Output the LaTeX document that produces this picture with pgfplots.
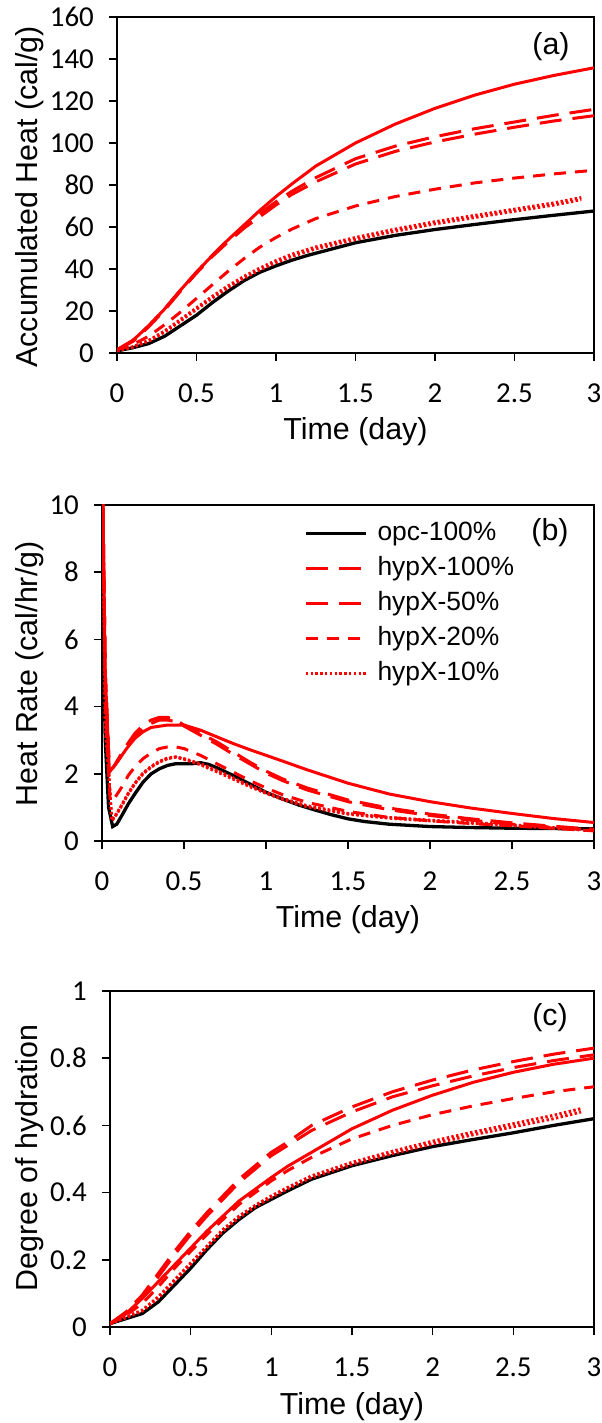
\documentclass[border=0pt]{standalone}
\usepackage{fontspec}
\setmainfont{Liberation Sans}
\newfontfamily\calibri{Carlito}
\usepackage{pgfplots}
\pgfplotsset{compat=1.18}
\definecolor{xred}{RGB}{255,0,0}
\tikzset{
  blk/.style={black, line width=3.3bp, solid},
  rsol/.style={xred, line width=3bp, solid},
  ldash/.style={xred, line width=3bp, dash pattern=on 22bp off 11bp},
  sdash/.style={xred, line width=3bp, dash pattern=on 12bp off 9bp},
  dotl/.style={xred, line width=3bp, dash pattern=on 2.4bp off 2.4bp},
}
\pgfplotsset{
  myaxis/.style={
    scale only axis, height=336bp,
    xmin=0, xmax=3, xtick={0,0.5,1,1.5,2,2.5,3},
    axis line style={line width=1.5bp},
    tick align=outside, tick pos=left,
    major tick length=8bp,
    every tick/.style={black, line width=1.5bp},
    tick label style={font=\calibri\fontsize{29}{29}\selectfont},
    /pgf/number format/assume math mode=true,
    yticklabel style={inner sep=0pt, xshift=-15bp},
    xticklabel style={inner sep=0pt, yshift=-23bp},
    clip=true,
  }
}
\begin{document}
\begin{tikzpicture}
\path[use as bounding box] (0,0) rectangle (602bp,1423bp);
% ---------- (a) ----------
\begin{axis}[myaxis, at={(117bp,1070bp)}, anchor=south west, width=477bp,
  ymin=0, ymax=160, ytick={0,20,...,160}]
\addplot[blk] coordinates {(0,1)(0.1,2.5)(0.2,4.5)(0.3,8)(0.4,13)(0.5,18)(0.6,24)(0.7,29.5)(0.8,34.5)(0.9,38.5)(1.0,41.5)(1.1,44.2)(1.2,46.5)(1.3,48.5)(1.4,50.5)(1.5,52.5)(1.75,56)(2.0,58.8)(2.25,61.2)(2.5,63.5)(2.75,65.6)(3.0,67.6)};
\addplot[dotl] coordinates {(0,1)(0.1,3)(0.2,6)(0.3,10.5)(0.4,16)(0.5,21.5)(0.6,27)(0.7,32)(0.8,36.5)(0.9,40.5)(1.0,44)(1.1,47)(1.25,50.5)(1.5,55)(1.75,59)(2.0,62.5)(2.25,65.5)(2.5,68.5)(2.75,71.5)(2.92,74)};
\addplot[dotl] coordinates {(0,1)(0.1,2.8)(0.2,5.6)(0.3,10)(0.4,15.3)(0.5,20.8)(0.6,26.2)(0.7,31.2)(0.8,35.7)(0.9,39.6)(1.0,43)(1.1,46)(1.25,49.6)(1.5,54)(1.75,58)(2.0,61.5)(2.25,64.5)(2.5,67.5)(2.75,70.5)(2.92,73)};
\addplot[sdash] coordinates {(0,1.5)(0.1,4)(0.2,8)(0.3,13.5)(0.4,19.5)(0.5,26)(0.6,32.5)(0.7,39)(0.8,45)(0.9,50.5)(1.0,55)(1.1,59)(1.25,64)(1.5,70)(1.75,74.5)(2.0,78)(2.25,81)(2.5,83.3)(2.75,85.3)(3.0,87)};
\addplot[ldash] coordinates {(0,1.5)(0.1,5.5)(0.2,12.5)(0.3,20.5)(0.4,29.5)(0.5,38)(0.6,46)(0.7,53)(0.8,59.5)(0.9,65)(1.0,70.5)(1.1,75.5)(1.25,81.5)(1.5,90)(1.75,96)(2.0,100.5)(2.25,104.2)(2.5,107.5)(2.75,110.5)(3.0,113)};
\addplot[ldash] coordinates {(0,1.5)(0.1,6)(0.2,13)(0.3,21)(0.4,30)(0.5,38.5)(0.6,46.5)(0.7,54)(0.8,60.5)(0.9,66.5)(1.0,72)(1.1,77)(1.25,83.5)(1.5,92.5)(1.75,98.5)(2.0,103)(2.25,106.8)(2.5,110)(2.75,113.2)(3.0,116)};
\addplot[rsol] coordinates {(0,1.5)(0.1,6)(0.2,13)(0.3,21)(0.4,30)(0.5,38.5)(0.6,46.5)(0.7,54)(0.8,61)(0.9,68)(1.0,74.5)(1.1,80.5)(1.25,89)(1.5,100)(1.75,109)(2.0,116.5)(2.25,122.8)(2.5,128)(2.75,132.2)(3.0,135.8)};
\end{axis}
\node[rotate=90, anchor=base, font=\fontsize{30.5}{30.5}\selectfont] at (37bp,1226bp) {Accumulated Heat (cal/g)};
\node[anchor=base, font=\fontsize{30.5}{30.5}\selectfont] at (355.5bp,983bp) {Time (day)};
\node[font=\fontsize{30.5}{30.5}\selectfont] at (551bp,1376bp) {(a)};
% ---------- (b) ----------
\begin{axis}[myaxis, at={(102bp,582bp)}, anchor=south west, width=492bp,
  ymin=0, ymax=10, ytick={0,2,...,10},
  legend style={at={(rel axis cs:0.4106,0.952)}, anchor=north west, draw=none, fill=none,
    inner sep=0pt, row sep=10.5bp, column sep=10bp,
    font=\fontsize{26.5}{26.5}\selectfont,
    nodes={inner sep=0pt, text height=19bp, text depth=5.5bp}},
  legend cell align=left,
  legend image code/.code={\draw[#1] (0bp,0bp) -- (60bp,0bp);}]
\addplot[blk] coordinates {(0.003,7.1)(0.02,3.0)(0.04,1.0)(0.065,0.43)(0.09,0.5)(0.12,0.75)(0.16,1.1)(0.2,1.4)(0.25,1.75)(0.3,2.0)(0.35,2.15)(0.4,2.25)(0.45,2.3)(0.5,2.3)(0.55,2.3)(0.6,2.33)(0.65,2.28)(0.7,2.18)(0.8,1.95)(0.9,1.7)(1.0,1.45)(1.1,1.25)(1.2,1.07)(1.3,0.92)(1.4,0.78)(1.5,0.66)(1.6,0.58)(1.75,0.5)(2.0,0.43)(2.25,0.4)(2.5,0.38)(2.75,0.37)(3.0,0.36)};
\addlegendentry{opc-100\%}
\addplot[ldash] coordinates {(0.003,11)(0.02,5)(0.045,2.1)(0.07,2.2)(0.1,2.45)(0.15,2.85)(0.2,3.2)(0.25,3.45)(0.3,3.6)(0.35,3.68)(0.4,3.68)(0.45,3.6)(0.5,3.45)(0.6,3.2)(0.7,2.95)(0.8,2.65)(0.9,2.35)(1.0,2.08)(1.1,1.85)(1.25,1.58)(1.5,1.22)(1.75,0.98)(2.0,0.8)(2.25,0.66)(2.5,0.54)(2.75,0.44)(3.0,0.35)};
\addlegendentry{hypX-100\%}
\addplot[ldash] coordinates {(0.003,11)(0.02,5)(0.045,2.1)(0.07,2.2)(0.1,2.4)(0.15,2.8)(0.2,3.1)(0.25,3.35)(0.3,3.5)(0.35,3.6)(0.4,3.6)(0.45,3.55)(0.5,3.42)(0.6,3.15)(0.7,2.88)(0.8,2.58)(0.9,2.3)(1.0,2.02)(1.1,1.8)(1.25,1.52)(1.5,1.17)(1.75,0.93)(2.0,0.76)(2.25,0.62)(2.5,0.5)(2.75,0.41)(3.0,0.32)};
\addlegendentry{hypX-50\%}
\addplot[sdash] coordinates {(0.003,11)(0.02,4)(0.05,1.2)(0.08,1.3)(0.12,1.6)(0.16,1.95)(0.2,2.2)(0.25,2.45)(0.3,2.62)(0.35,2.75)(0.4,2.8)(0.45,2.8)(0.5,2.75)(0.6,2.55)(0.7,2.3)(0.8,2.05)(0.9,1.8)(1.0,1.58)(1.1,1.38)(1.25,1.15)(1.5,0.88)(1.75,0.7)(2.0,0.6)(2.25,0.52)(2.5,0.45)(2.75,0.38)(3.0,0.3)};
\addlegendentry{hypX-20\%}
\addplot[dotl] coordinates {(0.003,11)(0.02,3.5)(0.06,0.6)(0.09,0.8)(0.12,1.05)(0.16,1.4)(0.2,1.7)(0.25,2.0)(0.3,2.2)(0.35,2.35)(0.4,2.45)(0.45,2.5)(0.5,2.45)(0.6,2.3)(0.7,2.1)(0.8,1.88)(0.9,1.65)(1.0,1.45)(1.1,1.27)(1.25,1.05)(1.5,0.82)(1.75,0.7)(2.0,0.62)(2.25,0.55)(2.5,0.48)(2.75,0.4)(2.92,0.35)};
\addlegendentry{hypX-10\%}
\addplot[dotl, forget plot] coordinates {(0.003,11)(0.02,3.5)(0.06,0.62)(0.09,0.82)(0.12,1.07)(0.16,1.42)(0.2,1.72)(0.25,2.02)(0.3,2.22)(0.35,2.37)(0.4,2.47)(0.45,2.5)(0.5,2.43)(0.6,2.27)(0.7,2.06)(0.8,1.84)(0.9,1.62)(1.0,1.42)(1.1,1.24)(1.25,1.02)(1.5,0.8)(1.75,0.68)(2.0,0.6)(2.25,0.53)(2.5,0.46)(2.75,0.38)(2.92,0.33)};
\addplot[rsol, forget plot] coordinates {(0.003,11)(0.02,5)(0.045,2.05)(0.07,2.2)(0.1,2.4)(0.15,2.75)(0.2,3.05)(0.25,3.25)(0.3,3.38)(0.4,3.45)(0.5,3.45)(0.6,3.3)(0.7,3.1)(0.8,2.9)(0.9,2.72)(1.0,2.55)(1.1,2.38)(1.25,2.12)(1.5,1.72)(1.75,1.4)(2.0,1.17)(2.25,0.98)(2.5,0.82)(2.75,0.67)(3.0,0.55)};
\end{axis}
\node[rotate=90, anchor=base, font=\fontsize{30.5}{30.5}\selectfont] at (37bp,749bp) {Heat Rate (cal/hr/g)};
\node[anchor=base, font=\fontsize{30.5}{30.5}\selectfont] at (348bp,495bp) {Time (day)};
\node[font=\fontsize{30.5}{30.5}\selectfont] at (550bp,890bp) {(b)};
% ---------- (c) ----------
\begin{axis}[myaxis, at={(110bp,96bp)}, anchor=south west, width=484bp,
  ymin=0, ymax=1, ytick={0,0.2,0.4,0.6,0.8,1}]
\addplot[blk] coordinates {(0,0.01)(0.1,0.025)(0.2,0.04)(0.3,0.075)(0.4,0.125)(0.5,0.175)(0.6,0.23)(0.7,0.28)(0.8,0.32)(0.9,0.355)(1.0,0.38)(1.1,0.405)(1.25,0.44)(1.5,0.48)(1.75,0.51)(2.0,0.537)(2.25,0.558)(2.5,0.578)(2.75,0.6)(3.0,0.62)};
\addplot[dotl] coordinates {(0,0.01)(0.1,0.03)(0.2,0.05)(0.3,0.09)(0.4,0.14)(0.5,0.19)(0.6,0.24)(0.7,0.29)(0.8,0.33)(0.9,0.362)(1.0,0.39)(1.1,0.415)(1.25,0.45)(1.5,0.49)(1.75,0.523)(2.0,0.553)(2.25,0.58)(2.5,0.605)(2.75,0.63)(2.92,0.65)};
\addplot[dotl] coordinates {(0,0.01)(0.1,0.028)(0.2,0.048)(0.3,0.087)(0.4,0.137)(0.5,0.187)(0.6,0.237)(0.7,0.286)(0.8,0.326)(0.9,0.358)(1.0,0.386)(1.1,0.411)(1.25,0.445)(1.5,0.484)(1.75,0.516)(2.0,0.545)(2.25,0.572)(2.5,0.596)(2.75,0.62)(2.92,0.64)};
\addplot[sdash] coordinates {(0,0.01)(0.1,0.035)(0.2,0.07)(0.3,0.12)(0.4,0.175)(0.5,0.225)(0.6,0.275)(0.7,0.32)(0.8,0.365)(0.9,0.4)(1.0,0.435)(1.1,0.465)(1.25,0.505)(1.5,0.56)(1.75,0.6)(2.0,0.632)(2.25,0.658)(2.5,0.68)(2.75,0.7)(3.0,0.715)};
\addplot[rsol] coordinates {(0,0.01)(0.1,0.04)(0.2,0.085)(0.3,0.135)(0.4,0.185)(0.5,0.235)(0.6,0.285)(0.7,0.33)(0.8,0.375)(0.9,0.41)(1.0,0.445)(1.1,0.478)(1.25,0.52)(1.5,0.59)(1.75,0.645)(2.0,0.69)(2.25,0.728)(2.5,0.758)(2.75,0.782)(3.0,0.80)};
\addplot[ldash] coordinates {(0,0.01)(0.1,0.04)(0.2,0.09)(0.3,0.15)(0.4,0.215)(0.5,0.275)(0.6,0.33)(0.7,0.38)(0.8,0.43)(0.9,0.47)(1.0,0.51)(1.1,0.54)(1.25,0.585)(1.5,0.64)(1.75,0.685)(2.0,0.718)(2.25,0.747)(2.5,0.772)(2.75,0.793)(3.0,0.81)};
\addplot[ldash] coordinates {(0,0.01)(0.1,0.045)(0.2,0.095)(0.3,0.16)(0.4,0.225)(0.5,0.285)(0.6,0.34)(0.7,0.39)(0.8,0.44)(0.9,0.48)(1.0,0.52)(1.1,0.55)(1.25,0.6)(1.5,0.655)(1.75,0.7)(2.0,0.735)(2.25,0.765)(2.5,0.79)(2.75,0.812)(3.0,0.83)};
\end{axis}
\node[rotate=90, anchor=base, font=\fontsize{30.5}{30.5}\selectfont] at (37bp,265bp) {Degree of hydration};
\node[anchor=base, font=\fontsize{30.5}{30.5}\selectfont] at (352bp,9bp) {Time (day)};
\node[font=\fontsize{30.5}{30.5}\selectfont] at (550bp,405bp) {(c)};
\end{tikzpicture}
\end{document}
